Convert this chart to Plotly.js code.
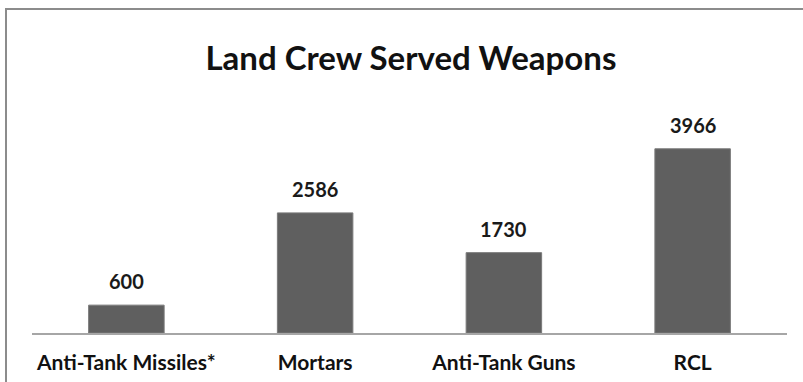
<!DOCTYPE html>
<html>
<head>
<meta charset="utf-8">
<script src="https://cdn.plot.ly/plotly-3.0.1.min.js"></script>
<style>
  html, body { margin: 0; padding: 0; background: #fff; }
  #wrap { position: relative; width: 803px; height: 382px; overflow: hidden; }
  #chart { width: 803px; height: 382px; }
  #frame { position: absolute; left: 5px; top: 8px; width: 820px; height: 400px;
           border: 2px solid #8c8c8c; pointer-events: none; box-sizing: border-box; }
</style>
</head>
<body>
<div id="wrap">
  <div id="chart"></div>
  <div id="frame"></div>
</div>
<script>
const categories = ["Anti-Tank Missiles*", "Mortars", "Anti-Tank Guns", "RCL"];
const values = [600, 2586, 1730, 3966];
const chartTitle = "Land Crew Served Weapons";

const FONT = "Lato, 'Open Sans', sans-serif";

const annotations = categories.map((c, i) => ({
  x: c, y: values[i], xref: "x", yref: "y",
  text: "<b>" + values[i] + "</b>",
  showarrow: false, yanchor: "bottom", yshift: 10,
  font: { family: FONT, size: 20, color: "#1a1a1a" }
}));

const data = [{
  type: "bar",
  x: categories,
  y: values,
  marker: { color: "#5f5f5f", line: { color: "#7a7a7a", width: 1 } },
  hoverinfo: "none"
}];

const layout = {
  width: 803, height: 382,
  margin: { l: 32, r: 16, t: 124, b: 49 },
  paper_bgcolor: "#ffffff", plot_bgcolor: "#ffffff",
  bargap: 0.6,
  showlegend: false,
  title: {
    text: "<b>" + chartTitle + "</b>",
    font: { family: FONT, size: 33, color: "#111" },
    x: 403 / 803, xanchor: "center", xref: "paper",
    y: 1 - 58 / 382, yanchor: "middle", yref: "container"
  },
  xaxis: {
    type: "category",
    showline: true, linecolor: "#a6a6a6", linewidth: 1.5,
    showgrid: false, zeroline: false, ticks: "",
    ticklabelstandoff: 10,
    tickfont: { family: FONT, size: 21, color: "#111" },
    tickprefix: "<b>", ticksuffix: "</b>"
  },
  yaxis: {
    range: [0, 4500], visible: false, showgrid: false, zeroline: false, fixedrange: true
  },
  annotations: annotations
};

Plotly.newPlot("chart", data, layout, { staticPlot: true, displayModeBar: false });
</script>
</body>
</html>
